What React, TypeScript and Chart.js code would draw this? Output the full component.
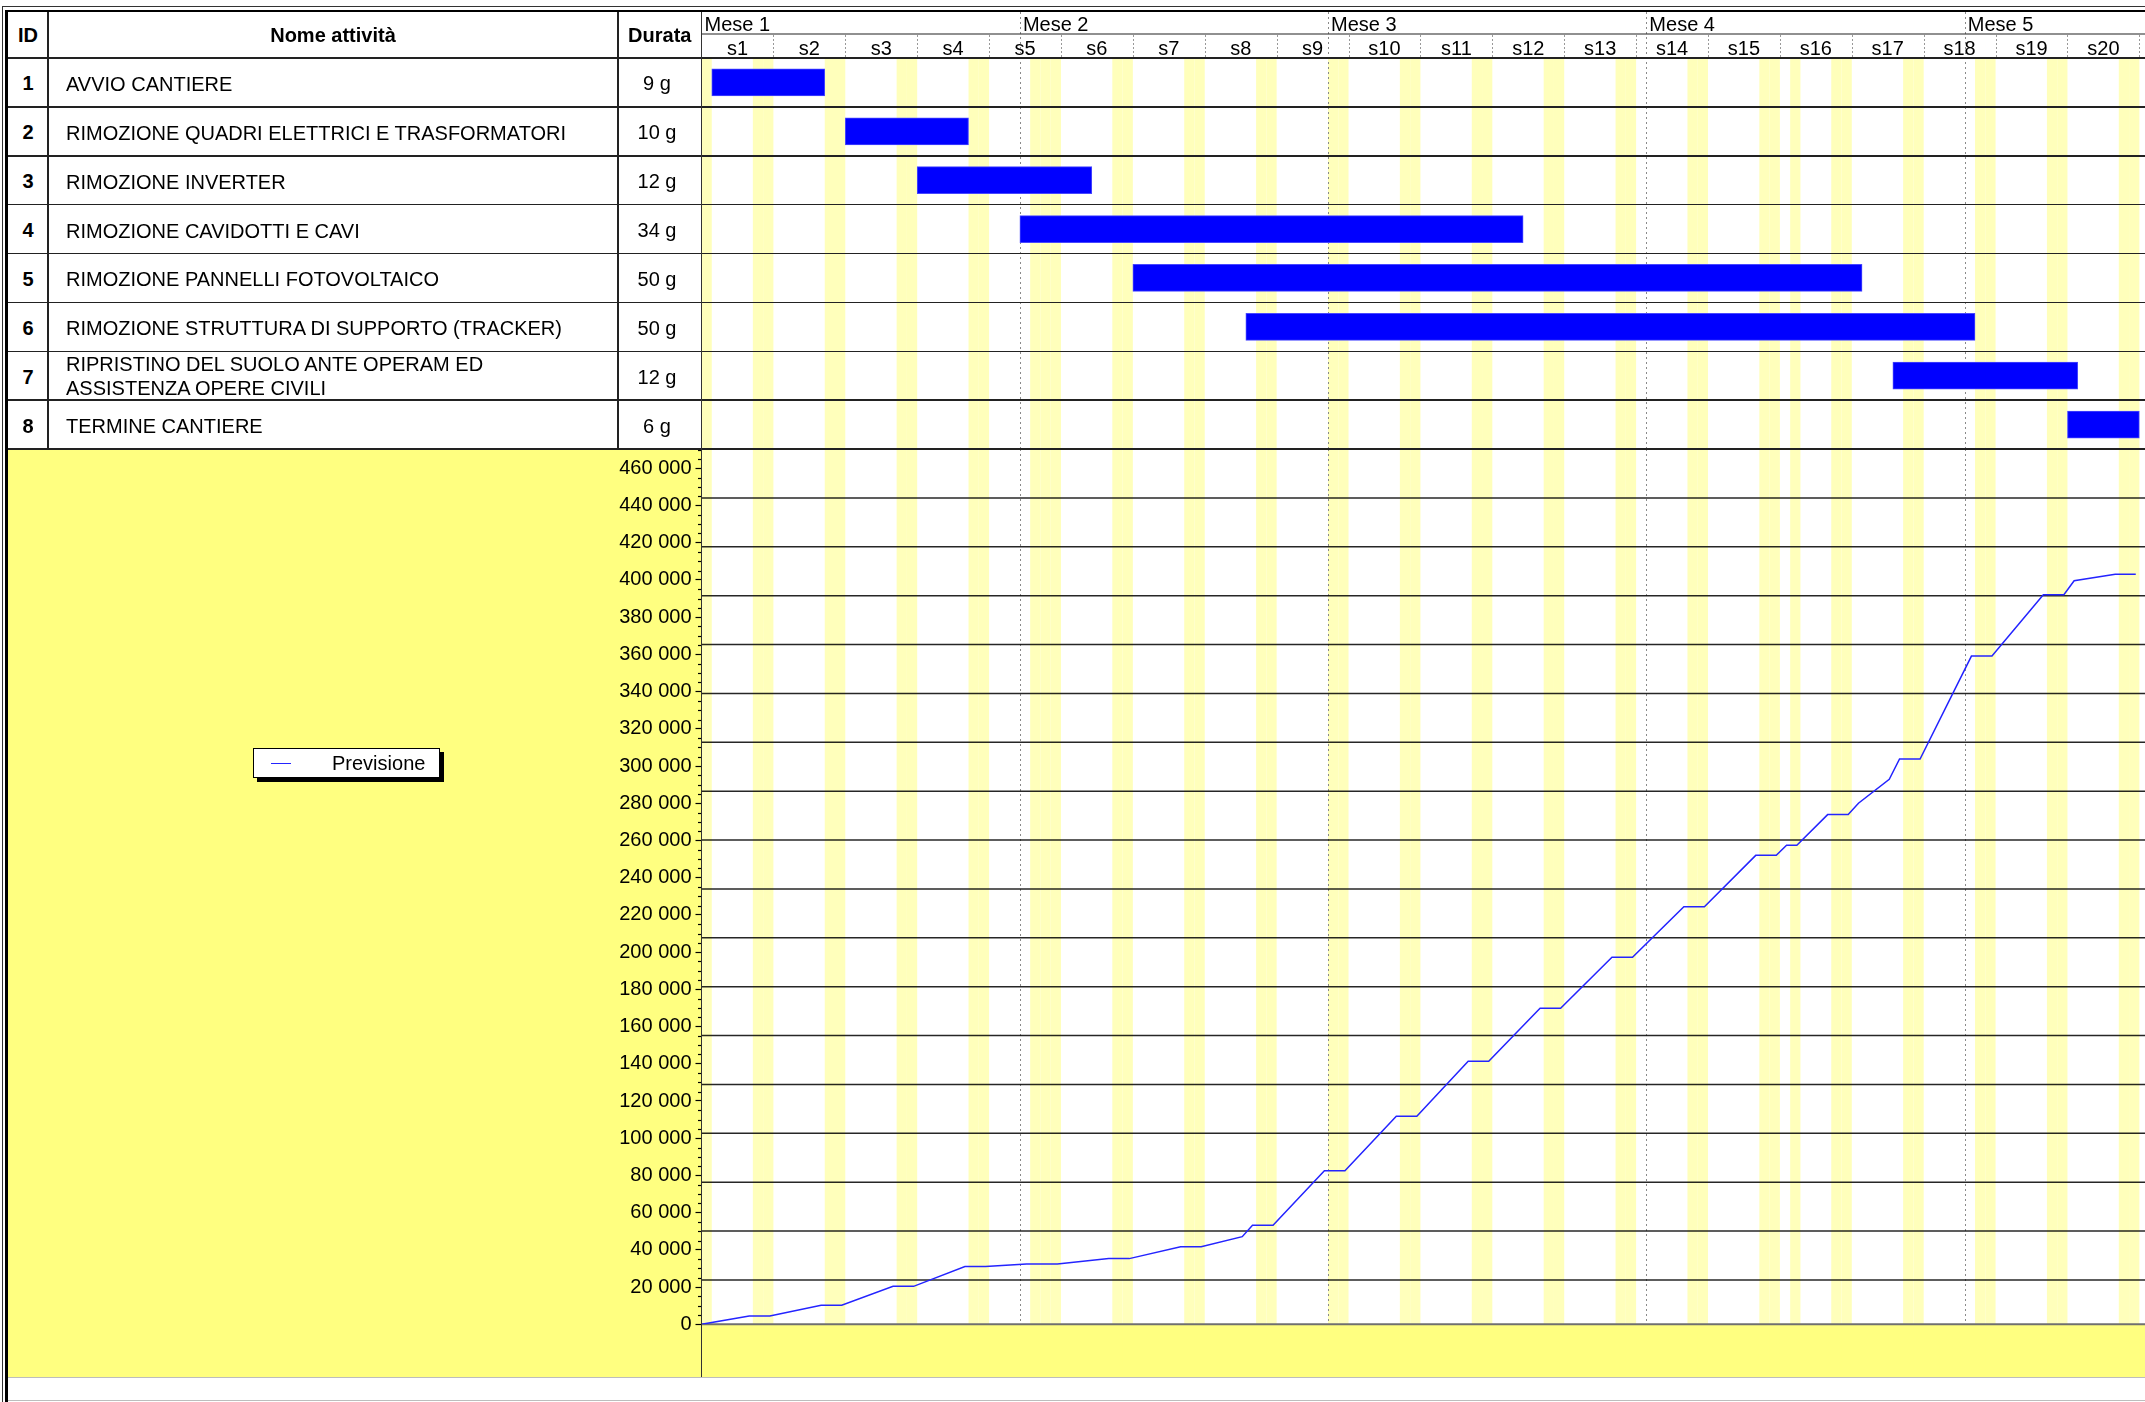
import React, { useEffect, useRef } from 'react';
import { Chart, registerables } from 'chart.js';

Chart.register(...registerables);

// ---------------- data ----------------
const taskIds = ['1', '2', '3', '4', '5', '6', '7', '8'];
const taskNames = [
  'AVVIO CANTIERE',
  'RIMOZIONE QUADRI ELETTRICI E TRASFORMATORI',
  'RIMOZIONE INVERTER',
  'RIMOZIONE CAVIDOTTI E CAVI',
  'RIMOZIONE PANNELLI FOTOVOLTAICO',
  'RIMOZIONE STRUTTURA DI SUPPORTO (TRACKER)',
  'RIPRISTINO DEL SUOLO ANTE OPERAM ED\nASSISTENZA OPERE CIVILI',
  'TERMINE CANTIERE',
];
const taskDurations = ['9 g', '10 g', '12 g', '34 g', '50 g', '50 g', '12 g', '6 g'];
const taskStartDays = [1, 14, 21, 31, 42, 53, 116, 133];
const taskEndDays = [12, 26, 38, 80, 113, 124, 134, 140];

const weekLabels = ['s1', 's2', 's3', 's4', 's5', 's6', 's7', 's8', 's9', 's10',
  's11', 's12', 's13', 's14', 's15', 's16', 's17', 's18', 's19', 's20'];
const monthLabels = ['Mese 1', 'Mese 2', 'Mese 3', 'Mese 4', 'Mese 5'];
const monthStartDays = [0, 31, 61, 92, 123];
const holidayDays = [0, 32, 106];
const weekendWeekdays = [5, 6];

const seriesLabel = 'Previsione';
const curveDays = [
  0, 4.65, 6.65, 11.65, 13.65, 18.65, 20.65, 25.65, 27.65, 31.65, 34.65,
  39.65, 41.65, 46.65, 48.65, 52.65, 53.65, 55.65, 60.65, 62.65, 67.65,
  69.65, 74.65, 76.65, 81.65, 83.65, 88.65, 90.65, 95.65, 97.65, 102.65,
  104.65, 105.65, 106.65, 109.65, 111.65, 112.65, 115.65, 116.65, 118.65,
  123.65, 125.65, 130.65, 132.65, 133.65, 137.65, 139.65,
];
const curveValues = [
  0, 4500, 4500, 10200, 10200, 20400, 20400, 31000, 31000, 32400, 32400,
  35300, 35300, 41700, 41700, 47100, 53200, 53200, 82500, 82500, 111800,
  111800, 141300, 141300, 169800, 169800, 197200, 197200, 224400, 224400, 252000,
  252000, 257400, 257400, 273900, 273900, 280000, 292900, 303800, 303800,
  359100, 359100, 392100, 392100, 399600, 403000, 403000,
];

const yMin = 0;
const yMax = 470370;
const yMinorStep = 5000;
const yLabelStep = 20000;
const dayMax = 140.55;

// ---------------- layout / style ----------------
const FONT = "'Liberation Sans', Arial, Helvetica, sans-serif";
const PLOT_LEFT = 701.5;
const TOP = 12;
const HEAD_BOTTOM = 58;
const ROW_H = 48.875;
const GANTT_BOTTOM = HEAD_BOTTOM + ROW_H * 8; // 449
const ZERO_Y = 1324.3;
const PANEL_BOTTOM = 1377;
const PAGE_W = 2145;
const STRIPE = '#FFFFBB';
const PANEL = '#FFFF80';
const LINE = '#222';
const ROW_TEXT_SHIFT = 1.5;

const GANTT_CANVAS_LEFT = 600;
const LINE_CANVAS_LEFT = 8;
const Y_AXIS_W = 89.5;

const nonWorkingDays: number[] = [];
for (let d = 0; d < dayMax; d++) {
  if (weekendWeekdays.includes(d % 7) || holidayDays.includes(d)) nonWorkingDays.push(d);
}

const fmt = (v: number) => String(v).replace(/\B(?=(\d{3})+(?!\d))/g, ' ');

function drawStripes(ctx: CanvasRenderingContext2D, xs: any, top: number, bottom: number, right: number) {
  ctx.fillStyle = STRIPE;
  nonWorkingDays.forEach((d) => {
    const x0 = xs.getPixelForValue(d);
    const x1 = Math.min(xs.getPixelForValue(d + 1), right);
    if (x1 > x0) ctx.fillRect(x0, top, x1 - x0, bottom - top);
  });
}

function drawMonthLines(ctx: CanvasRenderingContext2D, xs: any, y0: number, y1: number) {
  ctx.save();
  ctx.strokeStyle = '#8a8a8a';
  ctx.lineWidth = 1;
  ctx.setLineDash([2, 3]);
  monthStartDays.forEach((d) => {
    if (d === 0) return;
    const px = Math.round(xs.getPixelForValue(d)) + 0.5;
    ctx.beginPath();
    ctx.moveTo(px, y0);
    ctx.lineTo(px, y1);
    ctx.stroke();
  });
  ctx.restore();
}

const ganttDecor = {
  id: 'ganttDecor',
  beforeDatasetsDraw(chart: any) {
    const { ctx, chartArea, scales } = chart;
    const { left, right, top, bottom } = chartArea;
    ctx.save();
    ctx.fillStyle = '#fff';
    ctx.fillRect(left, top, right - left, bottom - top);
    drawStripes(ctx, scales.x, top, bottom, right);
    drawMonthLines(ctx, scales.x, 0, bottom);
    ctx.restore();
  },
  afterDraw(chart: any) {
    const { ctx, chartArea, scales } = chart;
    const { left, right } = chartArea;
    const wk = scales.weeks;
    ctx.save();
    ctx.strokeStyle = LINE;
    ctx.lineWidth = 1.2;
    ctx.beginPath();
    ctx.moveTo(left, wk.top);
    ctx.lineTo(right, wk.top);
    ctx.stroke();
    ctx.strokeStyle = '#999';
    ctx.lineWidth = 1;
    ctx.setLineDash([2, 2]);
    for (let k = 1; k <= weekLabels.length; k++) {
      const px = Math.round(scales.x.getPixelForValue(k * 7)) + 0.5;
      ctx.beginPath();
      ctx.moveTo(px, wk.top + 1);
      ctx.lineTo(px, wk.bottom);
      ctx.stroke();
    }
    ctx.restore();
  },
};

const curveDecor = {
  id: 'curveDecor',
  beforeDatasetsDraw(chart: any) {
    const { ctx, chartArea, scales } = chart;
    const { left, right, top, bottom } = chartArea;
    ctx.save();
    ctx.fillStyle = '#fff';
    ctx.fillRect(left, top, right - left, bottom - top);
    drawStripes(ctx, scales.x, top, bottom, right);
    drawMonthLines(ctx, scales.x, top, bottom);
    ctx.strokeStyle = 'rgba(0,0,0,0.85)';
    ctx.lineWidth = 1.5;
    for (let yy = top + ROW_H; yy < bottom - 5; yy += ROW_H) {
      ctx.beginPath();
      ctx.moveTo(left, yy);
      ctx.lineTo(right, yy);
      ctx.stroke();
    }
    const y0 = scales.y.getPixelForValue(0);
    ctx.strokeStyle = '#707070';
    ctx.lineWidth = 2;
    ctx.beginPath();
    ctx.moveTo(left, y0);
    ctx.lineTo(right, y0);
    ctx.stroke();
    ctx.restore();
  },
  afterDraw(chart: any) {
    const { ctx, chartArea, scales } = chart;
    const ys = scales.y;
    ctx.save();
    ctx.strokeStyle = '#000';
    ctx.lineWidth = 1.2;
    ys.ticks.forEach((t: any) => {
      if (t.value % yMinorStep !== 0 || t.value % yLabelStep === 0) return;
      const py = Math.round(ys.getPixelForValue(t.value)) + 0.5;
      ctx.beginPath();
      ctx.moveTo(chartArea.left - 3.5, py);
      ctx.lineTo(chartArea.left, py);
      ctx.stroke();
    });
    ctx.restore();
  },
};

export default function App() {
  const ganttRef = useRef<HTMLCanvasElement>(null);
  const lineRef = useRef<HTMLCanvasElement>(null);

  useEffect(() => {
    Chart.defaults.font.family = FONT;
    Chart.defaults.font.size = 20;
    Chart.defaults.color = '#000';

    const gantt = new Chart(ganttRef.current as HTMLCanvasElement, {
      type: 'bar',
      data: {
        labels: taskIds,
        datasets: [
          {
            data: taskStartDays.map((s, i) => [s, taskEndDays[i]]) as any,
            backgroundColor: '#0000FF',
            borderColor: '#4747ff',
            borderWidth: 1,
            borderSkipped: false,
            barThickness: 27,
            xAxisID: 'x',
            yAxisID: 'y',
          },
        ],
      },
      options: {
        indexAxis: 'y',
        animation: false,
        responsive: false,
        events: [],
        layout: { padding: { left: PLOT_LEFT - GANTT_CANVAS_LEFT, right: 0, top: 0, bottom: 0 } },
        plugins: { legend: { display: false }, tooltip: { enabled: false } },
        scales: {
          x: { type: 'linear', min: 0, max: dayMax, display: false },
          y: { type: 'category', display: false, offset: true },
          months: {
            type: 'linear',
            axis: 'x',
            position: 'top',
            weight: 2,
            min: 0,
            max: dayMax,
            afterBuildTicks: (s: any) => {
              s.ticks = monthStartDays.map((v) => ({ value: v }));
            },
            afterFit: (s: any) => {
              s.height = 22;
              s.paddingLeft = 0;
              s.paddingRight = 0;
            },
            ticks: {
              callback: (_v: any, i: number) => monthLabels[i],
              align: 'start',
              labelOffset: 3,
              padding: -8,
              autoSkip: false,
              maxRotation: 0,
              font: { family: FONT, size: 20, lineHeight: 0.9 },
              color: '#000',
            },
            grid: { display: false },
            border: { display: false },
          } as any,
          weeks: {
            type: 'linear',
            axis: 'x',
            position: 'top',
            weight: 1,
            min: 0,
            max: dayMax,
            afterBuildTicks: (s: any) => {
              s.ticks = weekLabels.map((_l, i) => ({ value: i * 7 + 3.5 }));
            },
            afterFit: (s: any) => {
              s.height = 24;
              s.paddingLeft = 0;
              s.paddingRight = 0;
            },
            ticks: {
              callback: (_v: any, i: number) => weekLabels[i],
              padding: -8,
              autoSkip: false,
              maxRotation: 0,
              font: { family: FONT, size: 20, lineHeight: 0.9 },
              color: '#000',
            },
            grid: { display: false },
            border: { display: false },
          } as any,
        },
      },
      plugins: [ganttDecor],
    } as any);

    const line = new Chart(lineRef.current as HTMLCanvasElement, {
      type: 'line',
      data: {
        datasets: [
          {
            label: seriesLabel,
            data: curveDays.map((d, i) => ({ x: d, y: curveValues[i] })),
            borderColor: '#2424ff',
            borderWidth: 1.5,
            pointRadius: 0,
            tension: 0,
            fill: false,
          },
        ],
      },
      options: {
        animation: false,
        responsive: false,
        events: [],
        layout: {
          padding: {
            left: PLOT_LEFT - LINE_CANVAS_LEFT - Y_AXIS_W,
            right: 0,
            top: 0,
            bottom: PANEL_BOTTOM - ZERO_Y,
          },
        },
        plugins: { legend: { display: false }, tooltip: { enabled: false } },
        scales: {
          x: { type: 'linear', min: 0, max: dayMax, display: false },
          y: {
            type: 'linear',
            position: 'left',
            min: yMin,
            max: yMax,
            afterBuildTicks: (s: any) => {
              const t: { value: number }[] = [];
              for (let v = yMin; v <= yMax; v += yMinorStep) t.push({ value: v });
              s.ticks = t;
            },
            afterFit: (s: any) => {
              s.width = Y_AXIS_W;
              s.paddingTop = 0;
              s.paddingBottom = 0;
            },
            ticks: {
              autoSkip: false,
              padding: 4,
              callback: (v: any) => (Number(v) % yLabelStep === 0 ? fmt(Number(v)) : ''),
              font: { family: FONT, size: 20 },
              color: '#000',
            },
            grid: {
              drawOnChartArea: false,
              tickLength: 6,
              tickWidth: 1.2,
              tickColor: (c: any) =>
                c.tick && c.tick.value % yLabelStep === 0 ? '#000' : 'rgba(0,0,0,0)',
            },
            border: { display: false },
          } as any,
        },
      },
      plugins: [curveDecor],
    } as any);

    return () => {
      gantt.destroy();
      line.destroy();
    };
  }, []);

  const abs = (s: React.CSSProperties): React.CSSProperties => ({ position: 'absolute', ...s });

  const rowLines = [];
  for (let k = 0; k <= 8; k++) {
    rowLines.push(
      <div key={'r' + k} style={abs({ left: 8, top: HEAD_BOTTOM + k * ROW_H - 0.75, width: PAGE_W - 8, height: 1.5, background: LINE })} />
    );
  }

  return (
    <div
      style={{
        position: 'fixed',
        left: 0,
        top: 0,
        width: PAGE_W,
        height: 1402,
        background: '#fff',
        overflow: 'hidden',
        fontFamily: FONT,
        fontSize: 20,
        color: '#000',
      }}
    >
      <canvas
        ref={ganttRef}
        width={PAGE_W - GANTT_CANVAS_LEFT}
        height={GANTT_BOTTOM - TOP}
        style={abs({ left: GANTT_CANVAS_LEFT, top: TOP, width: PAGE_W - GANTT_CANVAS_LEFT, height: GANTT_BOTTOM - TOP })}
      />
      <canvas
        ref={lineRef}
        width={PAGE_W - LINE_CANVAS_LEFT}
        height={PANEL_BOTTOM - GANTT_BOTTOM}
        style={abs({
          left: LINE_CANVAS_LEFT,
          top: GANTT_BOTTOM,
          width: PAGE_W - LINE_CANVAS_LEFT,
          height: PANEL_BOTTOM - GANTT_BOTTOM,
          background: PANEL,
        })}
      />

      {/* header texts */}
      <div style={abs({ left: 8, top: TOP, width: 40, height: HEAD_BOTTOM - TOP, display: 'flex', alignItems: 'center', justifyContent: 'center', fontWeight: 'bold' })}>ID</div>
      <div style={abs({ left: 48, top: TOP, width: 570, height: HEAD_BOTTOM - TOP, display: 'flex', alignItems: 'center', justifyContent: 'center', fontWeight: 'bold' })}>Nome attività</div>
      <div style={abs({ left: 618, top: TOP, width: 83.5, height: HEAD_BOTTOM - TOP, display: 'flex', alignItems: 'center', justifyContent: 'center', fontWeight: 'bold' })}>Durata</div>

      {/* rows */}
      {taskIds.map((id, i) => {
        const rowTop = HEAD_BOTTOM + i * ROW_H + ROW_TEXT_SHIFT;
        return (
          <React.Fragment key={id}>
            <div style={abs({ left: 8, top: rowTop, width: 40, height: ROW_H, display: 'flex', alignItems: 'center', justifyContent: 'center', fontWeight: 'bold' })}>{id}</div>
            <div style={abs({ left: 66, top: rowTop - (taskNames[i].includes('\n') ? ROW_TEXT_SHIFT : 0), width: 550, height: ROW_H, display: 'flex', alignItems: 'center', whiteSpace: 'pre-line', lineHeight: '24px' })}>{taskNames[i]}</div>
            <div style={abs({ left: 618, top: rowTop, width: 78, height: ROW_H, display: 'flex', alignItems: 'center', justifyContent: 'center' })}>{taskDurations[i]}</div>
          </React.Fragment>
        );
      })}

      {/* table lines */}
      {rowLines}
      <div style={abs({ left: 47.25, top: TOP, width: 1.5, height: GANTT_BOTTOM - TOP, background: LINE })} />
      <div style={abs({ left: 617.25, top: TOP, width: 1.5, height: GANTT_BOTTOM - TOP, background: LINE })} />
      <div style={abs({ left: 700.5, top: TOP, width: 1.5, height: PANEL_BOTTOM - TOP, background: '#333' })} />

      {/* bottom lines */}
      <div style={abs({ left: 8, top: PANEL_BOTTOM, width: PAGE_W - 8, height: 1, background: '#bdbdbd' })} />
      <div style={abs({ left: 8, top: 1400, width: PAGE_W - 8, height: 1.3, background: '#bdbdbd' })} />

      {/* outer border */}
      <div style={abs({ left: 2, top: 6, width: PAGE_W - 2, height: 1.2, background: '#333' })} />
      <div style={abs({ left: 5, top: 9.5, width: PAGE_W - 5, height: 2.5, background: '#000' })} />
      <div style={abs({ left: 2, top: 6, width: 1.2, height: 1402 - 6, background: '#333' })} />
      <div style={abs({ left: 5, top: 9.5, width: 2.6, height: 1402 - 9.5, background: '#000' })} />

      {/* legend */}
      <div
        style={abs({
          left: 253,
          top: 748,
          width: 187,
          height: 30,
          background: '#fff',
          border: '1px solid #000',
          boxShadow: '4px 4px 0 #000',
          boxSizing: 'border-box',
        })}
      >
        <div style={abs({ left: 17, top: 13.5, width: 20, height: 1.3, background: '#2424ff' })} />
        <div style={abs({ left: 78, top: 0, height: 28, lineHeight: '28px', whiteSpace: 'nowrap' })}>{seriesLabel}</div>
      </div>
    </div>
  );
}
